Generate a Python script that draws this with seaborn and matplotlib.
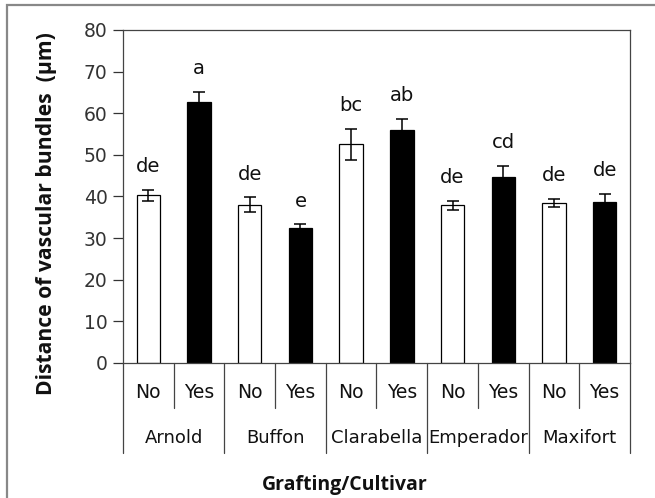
import numpy as np
import pandas as pd
import matplotlib
matplotlib.use("Agg")
import matplotlib.pyplot as plt
import matplotlib.transforms as mtrans
from matplotlib.patches import Rectangle
import seaborn as sns

# ---------- DATA ----------
cultivars = ["Arnold", "Buffon", "Clarabella", "Emperador", "Maxifort"]
grafting = ["No", "Yes"]
means = [40.3, 62.8, 38.0, 32.4, 52.5, 56.0, 37.9, 44.6, 38.4, 38.6]
errors = [1.3, 2.4, 1.8, 0.9, 3.8, 2.6, 1.1, 2.8, 1.0, 2.0]
letters = ["de", "a", "de", "e", "bc", "ab", "de", "cd", "de", "de"]
y_ticks = [0, 10, 20, 30, 40, 50, 60, 70, 80]
# --------------------------

sns.set_style("white")
plt.rcParams["font.family"] = ["DejaVu Sans"]

df = pd.DataFrame({
    "cultivar": np.repeat(cultivars, 2),
    "graft": grafting * len(cultivars),
    "value": means,
})
df["slot"] = df["cultivar"] + " " + df["graft"]

fig = plt.figure(figsize=(6.55, 4.98), dpi=100)
ax = fig.add_axes([0.1878, 0.2711, 0.774, 0.6687])

sns.barplot(data=df, x="slot", y="value", hue="graft",
            palette={"No": "white", "Yes": "black"}, dodge=False,
            edgecolor="black", linewidth=0.9, width=0.46,
            legend=False, ax=ax)

xpos = np.arange(len(means))
ax.errorbar(xpos, means, yerr=errors, fmt="none", ecolor="black",
            elinewidth=1.1, capsize=4, capthick=1.1)

for x, m, e, lab in zip(xpos, means, errors, letters):
    ax.text(x, m + e + 3.3, lab, ha="center", va="bottom", fontsize=14,
            color="#111111")

ax.set_xlim(-0.5, 9.5)
ax.set_ylim(0, 80)
ax.set_yticks(y_ticks)
ax.tick_params(axis="y", labelsize=13.5, length=7, width=0.9,
               direction="out", left=True, pad=4, colors="#333333")
ax.tick_params(axis="x", bottom=False, labelbottom=False)
for s in ax.spines.values():
    s.set_color("#444444")
    s.set_linewidth(0.9)
ax.set_xlabel("")
ax.set_ylabel("Distance of vascular bundles  (\u03bcm)", fontsize=15.2,
              fontweight="bold", family="Open Sans", color="#111111")
ax.yaxis.set_label_coords(-0.13, 0.45)

# two-level category axis below the bars
trans = mtrans.blended_transform_factory(ax.transData, ax.transAxes)
for i in range(len(means) + 1):
    b = i - 0.5
    low = -0.27 if i % 2 == 0 else -0.135
    ax.plot([b, b], [0, low], color="#444444", lw=0.9,
            transform=trans, clip_on=False)
for x, g in zip(xpos, df["graft"]):
    ax.text(x, -0.09, g, transform=trans, ha="center", va="center",
            fontsize=13.5, color="#111111")
for k, c in enumerate(cultivars):
    ax.text(2 * k + 0.5, -0.225, c, transform=trans, ha="center",
            va="center", fontsize=13, color="#111111")

fig.text(0.527, 0.026, "Grafting/Cultivar", ha="center",
         va="center", fontsize=14, fontweight="bold", family="Open Sans",
         color="#111111")

# frame around the figure
fig.patches.append(Rectangle((7 / 655, -0.1), 1.2, 1 - 5 / 498 + 0.1,
                             transform=fig.transFigure, fill=False,
                             edgecolor="#888888", lw=1.6))

fig.savefig("out.png", dpi=100)
